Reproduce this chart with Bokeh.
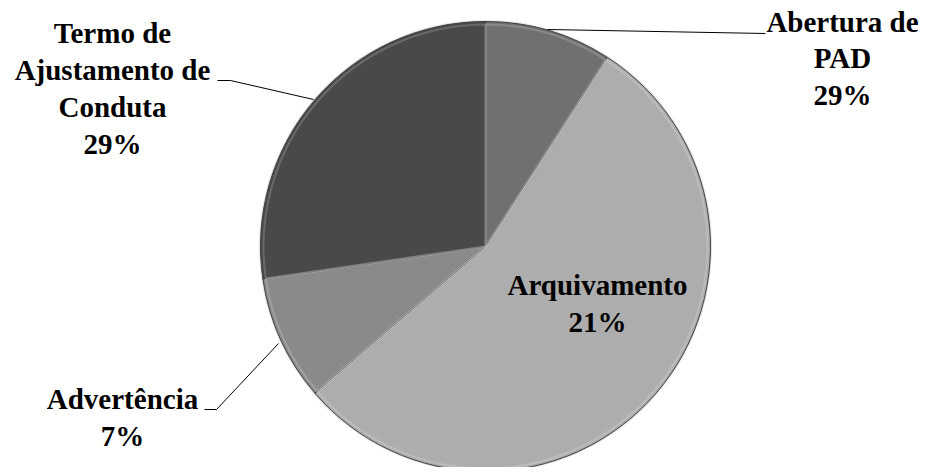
import math
from bokeh.plotting import figure
from bokeh.models import Range1d
from bokeh.core.properties import value
from bokeh.embed import file_html
from bokeh.resources import INLINE

# Data (slice shares as drawn, and label texts as printed on the chart)
categories = ["Abertura de PAD", "Arquivamento", "Advertência", "Termo de Ajustamento de Conduta"]
shares = [9.1, 54.6, 9.0, 27.3]
label_texts = ["Abertura de\nPAD\n29%", "Arquivamento\n21%", "Advertência\n7%", "Termo de\nAjustamento de\nConduta\n29%"]
colors = ["#707070", "#adadad", "#8a8a8a", "#494949"]

W, H = 919, 467
p = figure(width=W, height=H, output_backend="svg", toolbar_location=None,
           x_range=Range1d(0, W), y_range=Range1d(475 - H, 475),
           min_border=0)
p.axis.visible = False
p.grid.visible = False
p.outline_line_color = None
p.background_fill_color = "white"
p.border_fill_color = "white"

def Y(py):
    return 475 - py

cx, cy, r = 485, Y(246), 225

total = sum(shares)
start = math.pi / 2
starts, ends = [], []
for s in shares:
    a = 2 * math.pi * s / total
    starts.append(start)
    ends.append(start - a)
    start -= a

# soft outer shadow
p.wedge(x=cx, y=cy, radius=r + 1.5, start_angle=0, end_angle=2 * math.pi,
        fill_color="#e4e4e4", line_color=None)
p.wedge(x=[cx] * 4, y=[cy] * 4, radius=r, start_angle=starts, end_angle=ends,
        direction="clock", fill_color=colors, line_color="#404040", line_width=1)
# bevel highlight just inside the rim
p.wedge(x=[cx] * 4, y=[cy] * 4, radius=r - 3, start_angle=starts, end_angle=ends,
        direction="clock", fill_color=None, line_color="white", line_alpha=0.18, line_width=2)

# leader lines
leaders = [
    ([547, 765], [29, 33]),
    ([217, 230, 313], [80, 80, 99]),
    ([204, 216, 278], [409, 409, 343]),
]
for xs, ys in leaders:
    p.line(xs, [Y(v) for v in ys], line_color="black", line_width=1)

label_x = [842, 597, 122, 112]
label_y = [58, 303, 417, 88]
p.text(x=label_x, y=[Y(v) for v in label_y], text=label_texts,
       text_align="center", text_baseline="middle",
       text_font=value("Liberation Serif"), text_font_style="bold",
       text_font_size="29px", text_line_height=1.155, text_color="black")

open("out.html", "w").write(file_html(p, INLINE))
